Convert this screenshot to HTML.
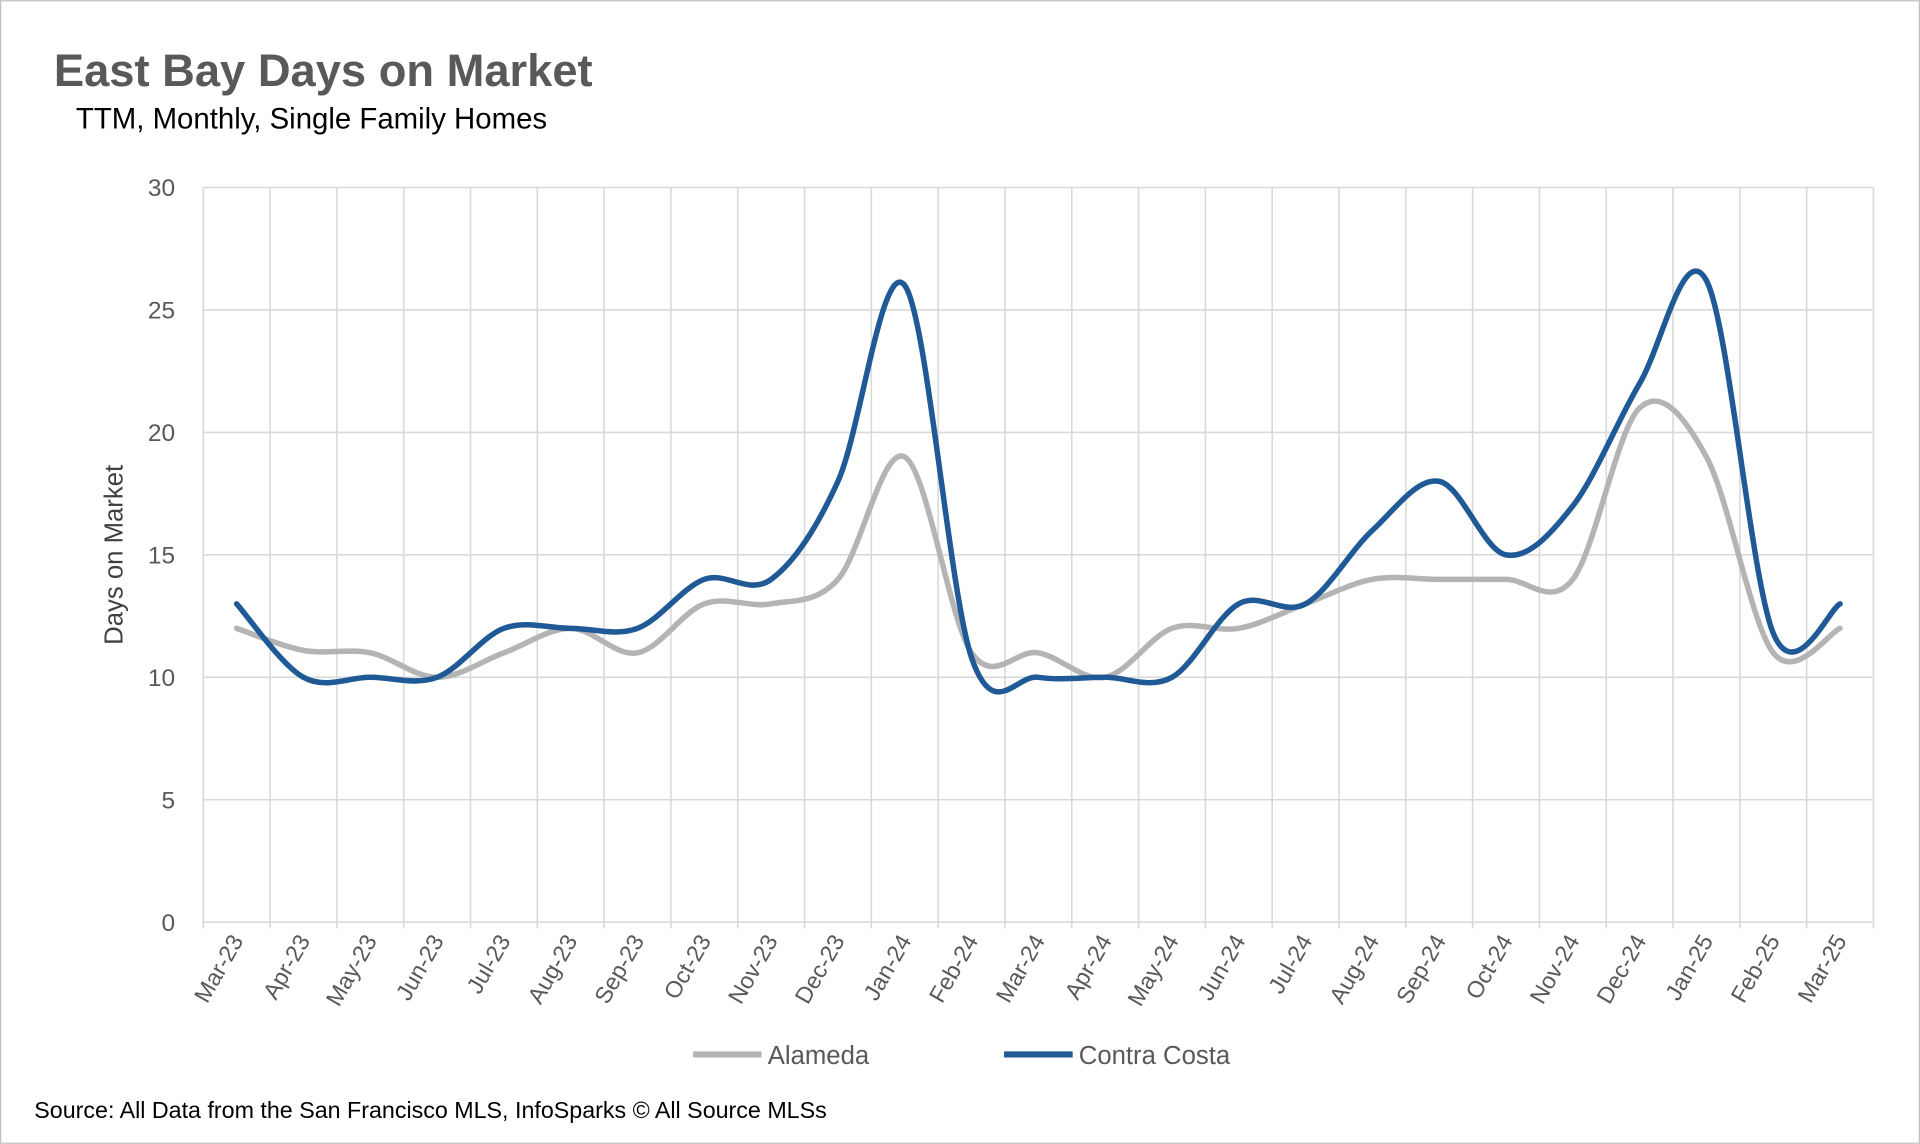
<!DOCTYPE html>
<html><head><meta charset="utf-8"><style>
html,body{margin:0;padding:0;background:#fff;}
svg{display:block;}
text{font-family:"Liberation Sans",sans-serif;}
</style></head><body>
<svg id="chart" width="1920" height="1144" viewBox="0 0 1568 934" xmlns="http://www.w3.org/2000/svg">
<rect x="0.5" y="0.5" width="1567" height="933" fill="#fff" stroke="#bfbfbf"/>
<text x="44" y="70" font-size="37" font-weight="bold" fill="#595959">East Bay Days on Market</text>
<text x="62" y="105" font-size="24" fill="#000">TTM, Monthly, Single Family Homes</text>
<g id="grid"></g>
<g id="yticks"></g>
<g id="xticks"></g>
<text transform="translate(100,453) rotate(-90)" text-anchor="middle" font-size="21" fill="#404040">Days on Market</text>
<g id="series"></g>
<g>
<g><line x1="566" y1="861" x2="622" y2="861" stroke="#b4b4b4" stroke-width="5"/><text x="627" y="869" font-size="21" fill="#595959">Alameda</text></g>
<g><line x1="820" y1="861" x2="876" y2="861" stroke="#1f5a96" stroke-width="5"/><text x="881" y="869" font-size="21" fill="#595959">Contra Costa</text></g>
</g>
<text x="28" y="913" font-size="19" fill="#000">Source: All Data from the San Francisco MLS, InfoSparks © All Source MLSs</text>
</svg>
<script>
const categories=["Mar-23","Apr-23","May-23","Jun-23","Jul-23","Aug-23","Sep-23","Oct-23","Nov-23","Dec-23","Jan-24","Feb-24","Mar-24","Apr-24","May-24","Jun-24","Jul-24","Aug-24","Sep-24","Oct-24","Nov-24","Dec-24","Jan-25","Feb-25","Mar-25"];
const alameda=[12,11.1,11,10,11,12,11,13,13,14,19,11,11,10,12,12,13,14,14,14,14,21,19,11,12];
const contraCosta=[13,10,10,10,12,12,12,14,14,18,26,10.8,10,10,10,13,13,16,18,15,17,22,26.2,11.8,13];
const yTicks=[0,5,10,15,20,25,30];
const NS="http://www.w3.org/2000/svg";
const L=166,R=1530,T=153,B=753,yMax=30;
const bw=(R-L)/categories.length;
function xs(i){return L+bw*(i+0.5);}
function ys(v){return B-(v/yMax)*(B-T);}
function mk(tag,attrs,parent){const e=document.createElementNS(NS,tag);for(const k in attrs)e.setAttribute(k,attrs[k]);parent.appendChild(e);return e;}
const grid=document.getElementById('grid'),yt=document.getElementById('yticks'),xt=document.getElementById('xticks'),ser=document.getElementById('series');
yTicks.forEach(v=>{
  const ln=mk('line',{x1:L,x2:R,y1:ys(v),y2:ys(v),stroke:'#d9d9d9','stroke-width':1.3},grid);
  
  
  const t=mk('text',{x:143,y:ys(v)+7,'text-anchor':'end','font-size':20,fill:'#595959'},yt);
  t.textContent=v;
  
  
});
for(let i=0;i<=categories.length;i++){
  const x=L+bw*i;
  const ln=mk('line',{x1:x,x2:x,y1:T,y2:B+5,stroke:'#d9d9d9','stroke-width':1.3},grid);
  
  
}
categories.forEach((c,i)=>{
  const x=xs(i)+6,y=768;
  const t=mk('text',{x:x,y:y,'text-anchor':'end','font-size':19,fill:'#595959',transform:`rotate(-60 ${x} ${y})`},xt);
  t.textContent=c;
  
  
});
function smooth(vals){
  const p=vals.map((v,i)=>[xs(i),ys(v)]);
  let d=`M${p[0][0]},${p[0][1]}`;
  for(let i=0;i<p.length-1;i++){
    const p0=p[i-1]||p[i],p1=p[i],p2=p[i+1],p3=p[i+2]||p[i+1];
    const c1=[p1[0]+(p2[0]-p0[0])/6,p1[1]+(p2[1]-p0[1])/6];
    const c2=[p2[0]-(p3[0]-p1[0])/6,p2[1]-(p3[1]-p1[1])/6];
    d+=` C${c1[0]},${c1[1]} ${c2[0]},${c2[1]} ${p2[0]},${p2[1]}`;
  }
  return d;
}
const a=mk('path',{d:smooth(alameda),fill:'none',stroke:'#b4b4b4','stroke-width':4.5,'stroke-linejoin':'round','stroke-linecap':'round'},ser);


const c=mk('path',{d:smooth(contraCosta),fill:'none',stroke:'#1f5a96','stroke-width':4.5,'stroke-linejoin':'round','stroke-linecap':'round'},ser);


</script>
</body></html>
